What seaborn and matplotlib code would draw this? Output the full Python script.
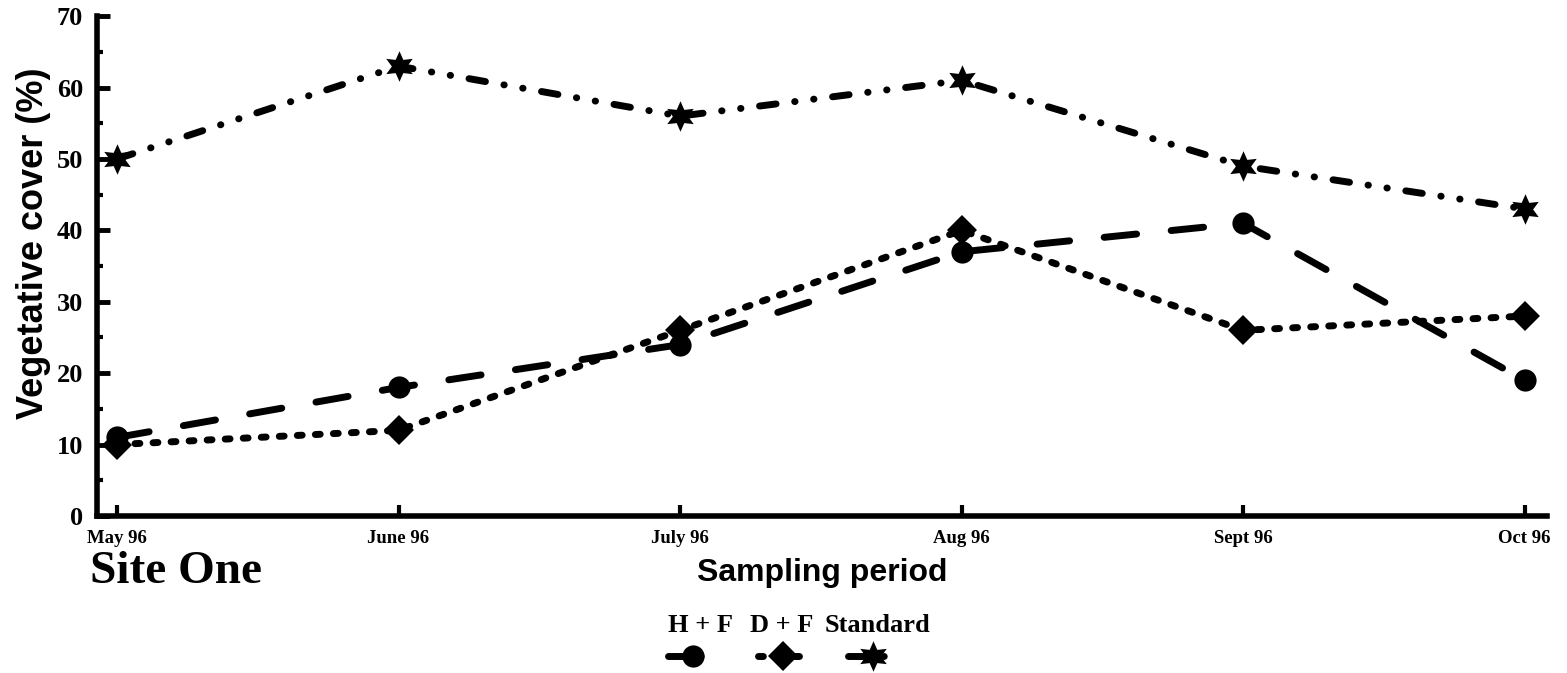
import matplotlib
matplotlib.use("Agg")
import matplotlib.pyplot as plt
from matplotlib.lines import Line2D
from matplotlib.ticker import MultipleLocator
from matplotlib import font_manager as fm
import seaborn as sns
import pandas as pd
import numpy as np

months = ["May 96", "June 96", "July 96", "Aug 96", "Sept 96", "Oct 96"]
hf = [11, 18, 24, 37, 41, 19]
df_ = [10, 12, 26, 40, 26, 28]
standard = [50, 63, 56, 61, 49, 43]
series_names = ["H + F", "D + F", "Standard"]

sns.set_theme(style="white")
plt.rcParams["font.family"] = ["Liberation Serif", "DejaVu Serif"]
plt.rcParams["text.color"] = "black"
plt.rcParams["axes.labelcolor"] = "black"
plt.rcParams["xtick.color"] = "black"
plt.rcParams["ytick.color"] = "black"


def bold_font(family, size):
    cands = [f for f in fm.fontManager.ttflist
             if f.name == family and "Bold" in f.fname and "Italic" not in f.fname]
    if cands:
        return fm.FontProperties(fname=cands[0].fname, size=size)
    return fm.FontProperties(family=family, weight="bold", size=size)


def serif_b(size):
    return bold_font("Liberation Serif", size)


def sans_b(size):
    return bold_font("Liberation Sans", size)


fig = plt.figure(figsize=(15.67, 6.73), dpi=100)
ax = fig.add_axes([0.0619, 0.2333, 0.9251, 0.7427])

pos = np.arange(len(months))
data = pd.DataFrame({
    "pos": np.tile(pos, 3),
    "value": hf + df_ + standard,
    "series": np.repeat(series_names, len(months)),
})

styles = {
    "H + F": dict(marker="o", ms=16, dashes=(4.7, 5.0)),
    "D + F": dict(marker="D", ms=15, dashes=(0.7, 1.9)),
    "Standard": dict(marker=(6, 1, 0), ms=22, dashes=(2.4, 2.7, 0.05, 2.7, 0.05, 2.7)),
}

lw = 5
for name in series_names:
    sub = data[data["series"] == name]
    st = styles[name]
    sns.lineplot(data=sub, x="pos", y="value", ax=ax, color="black", lw=lw,
                 marker=st["marker"], markersize=st["ms"], markeredgewidth=0,
                 dashes=False, legend=False)
    line = ax.get_lines()[-1]
    line.set_dashes(st["dashes"])
    line.set_dash_capstyle("round")

ax.set_xlim(-0.071, 5.078)
ax.set_ylim(0, 70)
ax.set_xticks(pos)
ax.set_xticklabels(months)
ax.yaxis.set_major_locator(MultipleLocator(10))
ax.yaxis.set_minor_locator(MultipleLocator(5))
ax.tick_params(axis="y", which="major", direction="in", length=9, width=3.5,
               pad=10, left=True)
ax.tick_params(axis="y", which="minor", direction="in", length=4.5, width=3, left=True)
ax.tick_params(axis="x", which="major", direction="in", length=8, width=3,
               pad=10, bottom=True)
for lab in ax.get_yticklabels():
    lab.set_fontproperties(serif_b(19))
for lab in ax.get_xticklabels():
    lab.set_fontproperties(serif_b(13.5))

for s in ["top", "right"]:
    ax.spines[s].set_visible(False)
for s in ["left", "bottom"]:
    ax.spines[s].set_linewidth(4)
    ax.spines[s].set_color("black")

ax.set_xlabel("Sampling period", fontproperties=sans_b(23), color="black", labelpad=8)
ax.set_ylabel("Vegetative cover (%)", fontproperties=sans_b(26), color="black")
ax.yaxis.set_label_coords(-0.032, 0.546)
ax.grid(False)

fig.text(90 / 1567, 1 - 572 / 673, "Site One", fontproperties=serif_b(34),
         color="black", ha="left", va="center")

# legend: labels above handles
label_x = [701, 782, 878]
for name, lx in zip(series_names, label_x):
    fig.text(lx / 1567, 1 - 625 / 673, name, fontproperties=serif_b(19),
             color="black", ha="center", va="center")
handles = []
for name in series_names:
    st = styles[name]
    h = Line2D([], [], color="black", lw=lw, marker=st["marker"],
               markersize=st["ms"], markeredgewidth=0)
    h.set_dashes(st["dashes"])
    h.set_dash_capstyle("round")
    handles.append(h)
fig.legend(handles, ["", "", ""], ncol=3, loc="center", fontsize=10,
           bbox_to_anchor=(783 / 1567, 1 - 657 / 673), frameon=False,
           handlelength=3.6, columnspacing=2.9, handletextpad=0.0)

fig.savefig("out.png", dpi=100)
